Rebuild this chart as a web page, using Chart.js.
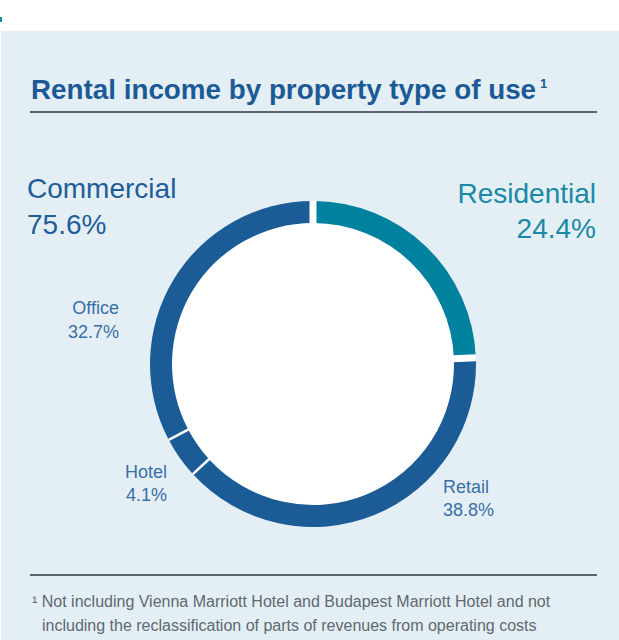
<!DOCTYPE html>
<html>
<head>
<meta charset="utf-8">
<script src="https://cdn.jsdelivr.net/npm/chart.js@4/dist/chart.umd.min.js"></script>
<style>
  body { margin: 0; width: 619px; height: 640px; background: #fff; position: relative; overflow: hidden;
         font-family: "Liberation Sans", Arial, sans-serif; }
  .panel { position: absolute; left: 1px; top: 31px; right: 0; bottom: 0; background: #e4eff5; }
  .mark { position: absolute; left: 0; top: 17px; width: 2px; height: 5px; background: #0f86a8; }
  .title { position: absolute; left: 31px; top: 76px; font-size: 27.8px; line-height: 27px; font-weight: bold;
           color: #1c5a96; white-space: nowrap; }
  .title sup { font-size: 13px; line-height: 0; vertical-align: 11px; margin-left: 4px; }
  .rule { position: absolute; left: 30px; width: 567px; height: 2px; background: #5b6570; }
  .lbl { position: absolute; white-space: nowrap; }
  .big { font-size: 28px; }
  .small { font-size: 18px; line-height: 23px; color: #3a6ea6; }
  .foot { position: absolute; left: 42px; top: 590px; width: 530px; text-indent: -10px; font-size: 16px;
          line-height: 24px; color: #5f6870; }
  #box { position: absolute; left: 148px; top: 199px; width: 330px; height: 330px; }
</style>
</head>
<body>
<div class="mark"></div>
<div class="panel"></div>
<div class="title">Rental income by property type of use<sup>1</sup></div>
<div class="rule" style="top:111px"></div>
<div id="labels"></div>
<div id="box"><canvas id="pie"></canvas></div>
<div class="rule" style="top:574px"></div>
<div class="foot">¹ Not including Vienna Marriott Hotel and Budapest Marriott Hotel and not including the reclassification of parts of revenues from operating costs</div>
<script>
const categories = ["Residential", "Retail", "Hotel", "Office"];
const shares = [24.4, 38.8, 4.1, 32.7];
const groupNames = ["Commercial", "Residential"];
const groupShares = [75.6, 24.4];

const blue = "#1b5b96";
const teal = "#00819e";

// label placement (style only)
const bigPos = [
    { css: "left:27px;top:171px;line-height:36px;color:#1f5d98;text-align:left" },
    { css: "right:23px;top:176px;line-height:35px;color:#1a89a6;text-align:right" }
];
const smallPos = {
    Retail: "left:443px;top:476px;text-align:left",
    Hotel: "right:452px;top:461px;text-align:right",
    Office: "right:500px;top:296px;line-height:24px;text-align:right"
};

const holder = document.getElementById("labels");
groupNames.forEach((name, i) => {
    const d = document.createElement("div");
    d.className = "lbl big";
    d.style.cssText = bigPos[i].css;
    d.innerHTML = name + "<br>" + groupShares[i].toFixed(1) + "%";
    holder.appendChild(d);
});
categories.forEach((name, i) => {
    if (!smallPos[name]) return;
    const d = document.createElement("div");
    d.className = "lbl small";
    d.style.cssText = smallPos[name];
    d.innerHTML = name + "<br>" + shares[i].toFixed(1) + "%";
    holder.appendChild(d);
});

// white hole + white gaps between slices
const gapWidths = [7, 7, 2.5, 2.5];
const ringDeco = {
    id: "ringDeco",
    beforeDatasetsDraw(chart) {
        const arc = chart.getDatasetMeta(0).data[0];
        const ctx = chart.ctx;
        ctx.save();
        ctx.fillStyle = "#fff";
        ctx.beginPath();
        ctx.arc(arc.x, arc.y, arc.innerRadius + 1, 0, Math.PI * 2);
        ctx.fill();
        ctx.restore();
    },
    afterDatasetsDraw(chart) {
        const ctx = chart.ctx;
        ctx.save();
        ctx.strokeStyle = "#fff";
        chart.getDatasetMeta(0).data.forEach((arc, i) => {
            const a = arc.startAngle;
            ctx.lineWidth = gapWidths[i];
            ctx.beginPath();
            ctx.moveTo(arc.x + Math.cos(a) * (arc.innerRadius - 1), arc.y + Math.sin(a) * (arc.innerRadius - 1));
            ctx.lineTo(arc.x + Math.cos(a) * arc.outerRadius, arc.y + Math.sin(a) * arc.outerRadius);
            ctx.stroke();
        });
        ctx.restore();
    }
};

new Chart(document.getElementById("pie"), {
    type: "doughnut",
    data: {
        labels: categories,
        datasets: [{
            data: shares,
            backgroundColor: [teal, blue, blue, blue],
            borderWidth: 0
        }]
    },
    options: {
        cutout: "86.5%",
        responsive: true,
        maintainAspectRatio: false,
        animation: false,
        events: [],
        layout: { padding: 2 },
        plugins: {
            legend: { display: false },
            tooltip: { enabled: false }
        }
    },
    plugins: [ringDeco]
});
</script>
</body>
</html>
